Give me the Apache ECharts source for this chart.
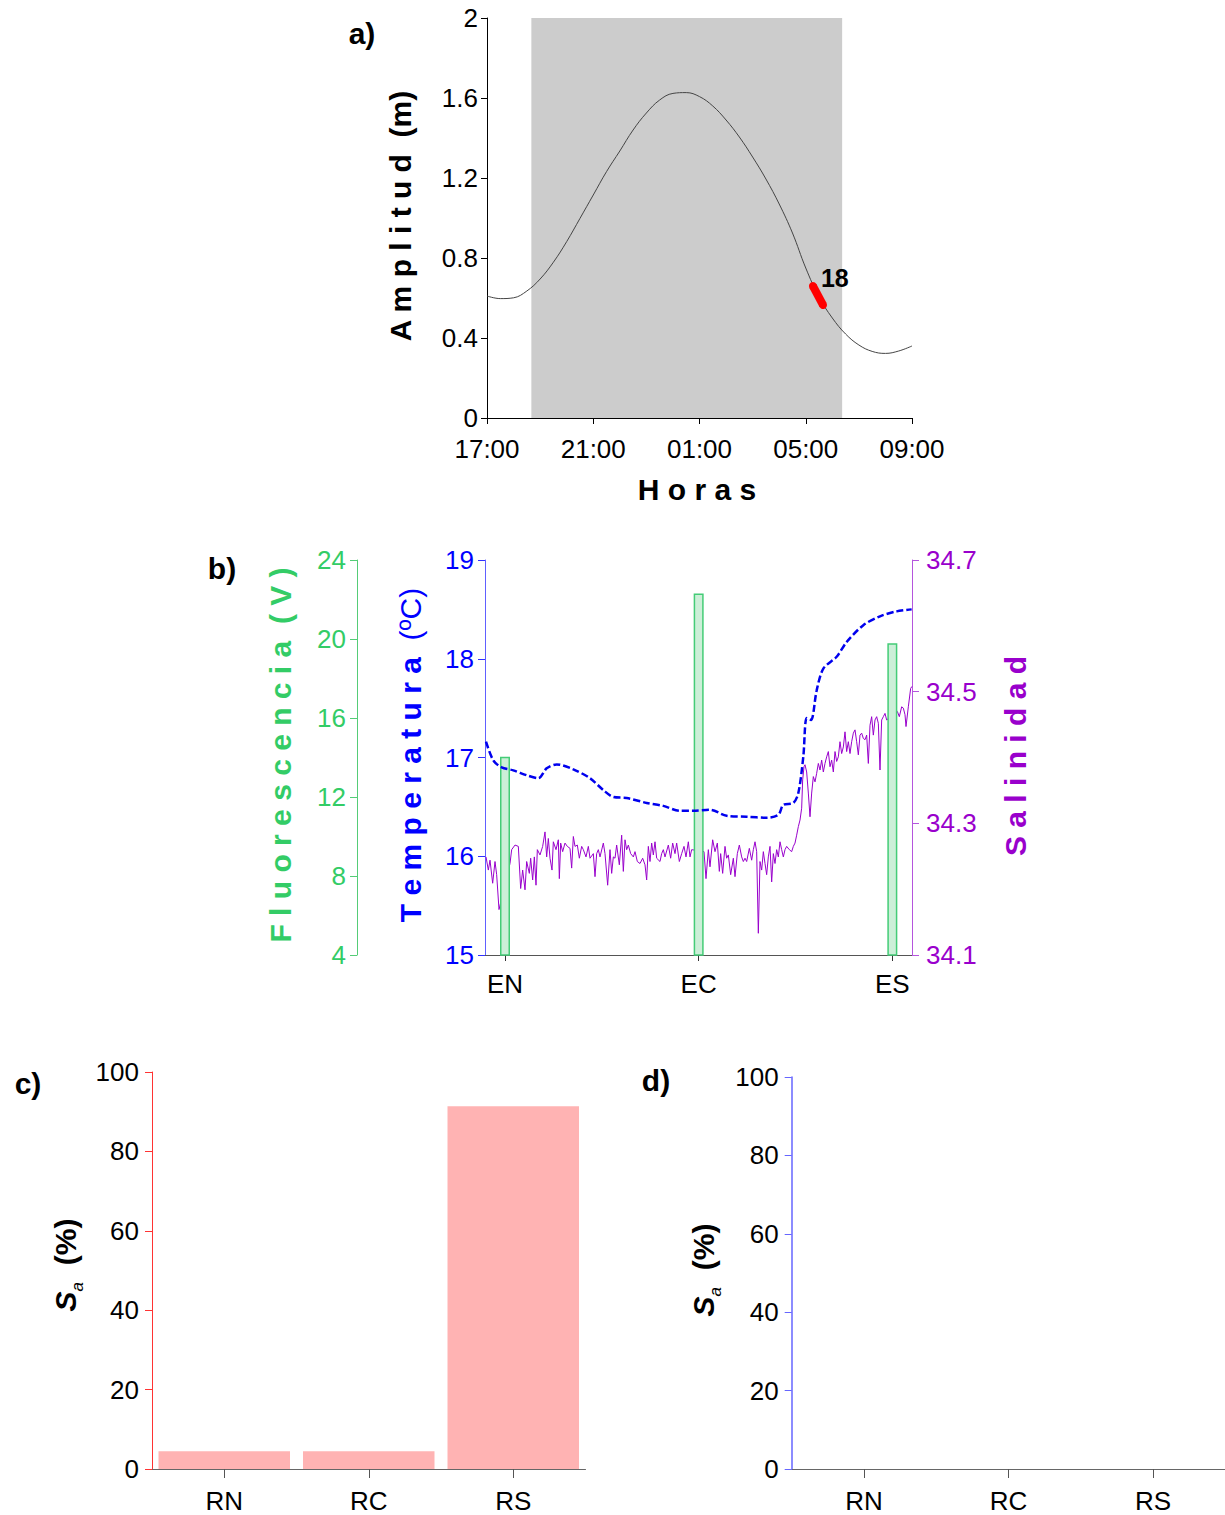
<!DOCTYPE html>
<html><head><meta charset="utf-8">
<script src="https://cdn.jsdelivr.net/npm/echarts@6/dist/echarts.min.js"></script>
<style>html,body{margin:0;padding:0;background:#fff}#c{width:1225px;height:1515px}</style>
</head><body><div id="c"></div>
<script>
const FONT = '"Liberation Sans", Arial, sans-serif';

// ---------- Panel a: tide ----------
const timeTickLabels = ['17:00', '21:00', '01:00', '05:00', '09:00'];
// hours after 17:00
const tideHours = [0,0.5,1,1.5,2,2.5,3,3.5,4,4.5,5,5.5,6,6.5,7,7.5,8,8.5,9,9.5,10,10.5,11,11.5,12,12.5,13,13.5,14,14.5,15,15.5,16];
const tideLevels = [0.61,0.597,0.601,0.635,0.695,0.779,0.882,0.998,1.115,1.232,1.335,1.44,1.525,1.59,1.623,1.627,1.607,1.56,1.49,1.405,1.305,1.195,1.07,0.925,0.75,0.605,0.5,0.42,0.365,0.333,0.323,0.335,0.36];
const nightWindow = [1.67, 13.37];
const sampleHours = [12.27, 12.65];
const sampleLevels = [0.66, 0.565];
const sampleName = '18';

// ---------- Panel b: transect ----------
const stationNames = ['EN', 'EC', 'ES'];
const stationPos = [75, 656, 1237];
const fluorValues = [14.04, 22.31, 19.78];
const tempX = [18,40,65,100,140,175,200,230,280,330,370,400,440,500,550,600,640,690,740,800,860,895,910,940,955,970,980,993,1010,1030,1070,1100,1150,1200,1250,1295];
const tempVal = [17.16,16.97,16.90,16.87,16.82,16.79,16.89,16.93,16.88,16.79,16.67,16.60,16.59,16.54,16.51,16.46,16.46,16.47,16.41,16.40,16.39,16.42,16.52,16.54,16.64,17.01,17.40,17.38,17.68,17.90,18.02,18.17,18.34,18.43,18.48,18.50];
const salX = [18,25,30,38,45,50,57,90,95,105,115,122,128,135,140,148,152,158,163,168,172,180,188,195,200,205,210,216,220,228,235,238,242,248,255,262,270,275,280,285,292,298,305,310,318,325,330,340,345,350,355,360,370,375,383,390,395,400,405,410,418,425,430,435,440,445,452,460,465,472,480,488,495,500,505,510,515,520,525,530,540,545,550,555,565,572,578,585,590,598,605,612,618,625,630,635,672,678,685,690,698,705,712,718,722,728,735,740,745,752,760,765,772,778,785,790,795,800,808,815,820,825,830,835,840,845,850,855,860,865,870,875,880,885,890,895,900,905,910,915,920,928,935,940,945,950,955,960,965,968,972,975,980,985,990,995,1000,1005,1010,1015,1020,1025,1030,1035,1040,1045,1050,1055,1060,1065,1070,1075,1080,1085,1090,1095,1100,1105,1110,1115,1120,1125,1130,1135,1140,1145,1150,1155,1160,1165,1170,1175,1180,1185,1190,1195,1200,1205,1210,1215,1220,1252,1258,1265,1270,1275,1278,1285,1292,1296];
const salVal = [34.249,34.229,34.244,34.209,34.242,34.222,34.169,34.239,34.260,34.267,34.265,34.201,34.229,34.199,34.242,34.224,34.247,34.214,34.249,34.206,34.260,34.252,34.265,34.287,34.249,34.277,34.247,34.229,34.272,34.260,34.275,34.216,34.270,34.257,34.270,34.265,34.262,34.232,34.280,34.265,34.267,34.247,34.265,34.260,34.249,34.265,34.247,34.254,34.219,34.254,34.260,34.249,34.270,34.254,34.206,34.260,34.224,34.249,34.247,34.267,34.237,34.282,34.227,34.275,34.260,34.267,34.254,34.249,34.257,34.242,34.239,34.247,34.237,34.214,34.265,34.242,34.270,34.252,34.272,34.247,34.242,34.254,34.260,34.249,34.267,34.247,34.270,34.254,34.270,34.242,34.254,34.265,34.249,34.272,34.249,34.260,34.257,34.216,34.260,34.234,34.275,34.257,34.270,34.227,34.254,34.224,34.265,34.247,34.252,34.222,34.247,34.219,34.254,34.267,34.249,34.242,34.247,34.242,34.262,34.244,34.260,34.272,34.257,34.133,34.242,34.229,34.257,34.239,34.222,34.249,34.265,34.211,34.254,34.239,34.260,34.249,34.272,34.260,34.249,34.260,34.265,34.260,34.257,34.265,34.270,34.282,34.295,34.305,34.323,34.366,34.386,34.389,34.378,34.346,34.310,34.346,34.371,34.363,34.376,34.391,34.381,34.396,34.378,34.391,34.401,34.409,34.386,34.396,34.378,34.409,34.394,34.401,34.424,34.406,34.416,34.439,34.409,34.424,34.406,34.424,34.437,34.442,34.424,34.404,34.434,34.437,34.429,34.427,34.434,34.391,34.449,34.462,34.434,34.457,34.462,34.452,34.381,34.457,34.462,34.467,34.457,34.470,34.462,34.477,34.475,34.465,34.447,34.477,34.505,34.508];

// ---------- Panels c, d ----------
const regionNames = ['RN', 'RC', 'RS'];
const saValuesC = [4.5, 4.5, 91.4];
const saValuesD = [0, 0, 0];

const GREEN = '#33cc66', BLUE = '#0000ff', PURPLE = '#9900cc';

function valAxis(o) {
  return Object.assign({
    type: 'value', splitLine: { show: false },
    axisLine: { show: true, onZero: false, lineStyle: { color: '#000', width: 1 } },
    axisTick: { show: true, inside: false, length: 6, lineStyle: { color: '#000' } },
    axisLabel: { fontSize: 26, fontFamily: FONT, color: '#000', margin: 9 }
  }, o);
}

const chart = echarts.init(document.getElementById('c'), null, { renderer: 'svg' });

function txt(x, y, text, font, fill, rot, rich) {
  const el = { type: 'text', x: x, y: y, rotation: rot || 0, silent: true,
    style: { text: text, font: font, fill: fill, textAlign: 'center', textVerticalAlign: 'middle' } };
  if (rich) el.style.rich = rich;
  return el;
}
const R = Math.PI / 2;
const boldF = 'bold 30px ' + FONT;

const option = {
  animation: false,
  backgroundColor: '#fff',
  grid: [
    { left: 487, top: 18, width: 425, height: 400, outerBoundsMode: 'none' },
    { left: 485, top: 560, width: 427, height: 395, outerBoundsMode: 'none' },
    { left: 152, top: 1072, width: 433.5, height: 397, outerBoundsMode: 'none' },
    { left: 791.7, top: 1077, width: 433.5, height: 392, outerBoundsMode: 'none' }
  ],
  xAxis: [
    valAxis({ gridIndex: 0, min: 0, max: 16, interval: 4,
      axisLabel: { fontSize: 26, fontFamily: FONT, color: '#000', margin: 18,
        formatter: v => timeTickLabels[Math.round(v / 4)] } }),
    valAxis({ gridIndex: 1, min: 15, max: 1296,
      axisLine: { show: true, onZero: false, lineStyle: { color: '#555' } },
      axisTick: { show: true, length: 6, customValues: stationPos, lineStyle: { color: '#333' } },
      axisLabel: { fontSize: 26, fontFamily: FONT, color: '#000', margin: 16, customValues: stationPos,
        formatter: v => stationNames[stationPos.indexOf(v)] } }),
    { gridIndex: 2, type: 'category', data: regionNames,
      axisLine: { show: true, lineStyle: { color: '#666' } },
      axisTick: { show: true, alignWithLabel: true, length: 9, lineStyle: { color: '#555' } },
      axisLabel: { fontSize: 26, fontFamily: FONT, color: '#000', margin: 19 } },
    { gridIndex: 3, type: 'category', data: regionNames,
      axisLine: { show: true, lineStyle: { color: '#666' } },
      axisTick: { show: true, alignWithLabel: true, length: 9, lineStyle: { color: '#555' } },
      axisLabel: { fontSize: 26, fontFamily: FONT, color: '#000', margin: 19 } }
  ],
  yAxis: [
    valAxis({ gridIndex: 0, min: 0, max: 2, interval: 0.4,
      axisLabel: { fontSize: 26, fontFamily: FONT, color: '#000', margin: 9,
        formatter: v => String(+v.toFixed(1)) } }),
    valAxis({ gridIndex: 1, position: 'left', min: 15, max: 19, interval: 1,
      axisLine: { show: true, onZero: false, lineStyle: { color: '#6060ff' } },
      axisTick: { show: true, length: 7, lineStyle: { color: '#3030ff' } },
      axisLabel: { fontSize: 26, fontFamily: FONT, color: BLUE, margin: 11 } }),
    valAxis({ gridIndex: 1, position: 'left', offset: 128, min: 4, max: 24, interval: 4,
      axisLine: { show: true, onZero: false, lineStyle: { color: '#55cc77' } },
      axisTick: { show: true, length: 7, lineStyle: { color: '#55cc77' } },
      axisLabel: { fontSize: 26, fontFamily: FONT, color: GREEN, margin: 11 } }),
    valAxis({ gridIndex: 1, position: 'right', min: 34.1, max: 34.7, interval: 0.2,
      axisLine: { show: true, onZero: false, lineStyle: { color: '#b455dd' } },
      axisTick: { show: true, length: 7, lineStyle: { color: '#b455dd' } },
      axisLabel: { fontSize: 26, fontFamily: FONT, color: PURPLE, margin: 14,
        formatter: v => v.toFixed(1) } }),
    valAxis({ gridIndex: 2, min: 0, max: 100, interval: 20,
      axisLine: { show: true, onZero: false, lineStyle: { color: '#ff3333' } },
      axisTick: { show: true, length: 7, lineStyle: { color: '#ff3333' } },
      axisLabel: { fontSize: 26, fontFamily: FONT, color: '#000', margin: 13 } }),
    valAxis({ gridIndex: 3, min: 0, max: 100, interval: 20,
      axisLine: { show: true, onZero: false, lineStyle: { color: '#6666ff', width: 1.5 } },
      axisTick: { show: true, length: 7, lineStyle: { color: '#6666ff' } },
      axisLabel: { fontSize: 26, fontFamily: FONT, color: '#000', margin: 13 } })
  ],
  series: [
    { name: 'night', type: 'line', xAxisIndex: 0, yAxisIndex: 0, data: [], z: 1, silent: true,
      markArea: { silent: true, itemStyle: { color: '#cccccc', opacity: 1 },
        data: [[{ xAxis: nightWindow[0] }, { xAxis: nightWindow[1] }]] } },
    { name: 'tide', type: 'line', xAxisIndex: 0, yAxisIndex: 0, z: 3, smooth: 0.4, symbol: 'none',
      lineStyle: { color: '#444', width: 1 },
      data: tideHours.map((h, i) => [h, tideLevels[i]]) },
    { name: 'sample', type: 'line', xAxisIndex: 0, yAxisIndex: 0, z: 4, symbol: 'circle', symbolSize: 8,
      showSymbol: true, itemStyle: { color: '#ff0000' }, lineStyle: { color: '#ff0000', width: 8 },
      data: sampleHours.map((h, i) => i === 0 ? {
        value: [h, sampleLevels[i]],
        label: { show: true, formatter: sampleName, position: 'right', distance: 4, offset: [0, -8],
          fontSize: 25, fontWeight: 'bold', fontFamily: FONT, color: '#000' } } : [h, sampleLevels[i]]) },
    { name: 'salinidad', type: 'line', xAxisIndex: 1, yAxisIndex: 3, z: 2, symbol: 'none',
      lineStyle: { color: PURPLE, width: 1 },
      data: salX.map((x, i) => [x, salVal[i]]) },
    { name: 'fluorescencia', type: 'bar', xAxisIndex: 1, yAxisIndex: 2, z: 3, barWidth: 10,
      itemStyle: { color: '#ccefd8', borderColor: '#44cc77', borderWidth: 1.5 },
      data: stationPos.map((p, i) => [p, fluorValues[i]]) },
    { name: 'temperatura', type: 'line', xAxisIndex: 1, yAxisIndex: 1, z: 5, smooth: 0.3, symbol: 'none',
      lineStyle: { color: '#0000ee', width: 2.5, type: [7, 3] },
      data: tempX.map((x, i) => [x, tempVal[i]]) },
    { name: 'c', type: 'bar', xAxisIndex: 2, yAxisIndex: 4, barCategoryGap: '9%',
      itemStyle: { color: '#ffb3b3' }, data: saValuesC },
    { name: 'd', type: 'bar', xAxisIndex: 3, yAxisIndex: 5, barCategoryGap: '9%',
      itemStyle: { color: '#b3b3ff' }, data: saValuesD }
  ],
  graphic: [
    txt(362, 33, 'a)', boldF, '#000'),
    txt(400, 216, 'A m p l i t u d  (m)', boldF, '#000', R),
    txt(697, 489, 'H o r a s', boldF, '#000'),
    txt(222, 568, 'b)', boldF, '#000'),
    txt(280, 755, 'F l u o r e s c e n c i a  ( V )', boldF, GREEN, R),
    txt(410, 755, '{b|T e m p e r a t u r a}{n|  (ºC)}', boldF, BLUE, R, {
      b: { font: boldF, fill: BLUE }, n: { font: '30px ' + FONT, fill: BLUE } }),
    txt(1015, 756, 'S a l i n i d a d', boldF, PURPLE, R),
    txt(28, 1083, 'c)', boldF, '#000'),
    txt(656, 1080, 'd)', boldF, '#000'),
    txt(65, 1265, '{s|S}{a|a}{p|  (%)}', boldF, '#000', R, {
      s: { font: 'bold italic 30px ' + FONT, fill: '#000' },
      a: { font: 'italic 17px ' + FONT, fill: '#000', verticalAlign: 'bottom', padding: [0, 0, -6, 0] },
      p: { font: boldF, fill: '#000' } }),
    txt(703, 1270, '{s|S}{a|a}{p|  (%)}', boldF, '#000', R, {
      s: { font: 'bold italic 30px ' + FONT, fill: '#000' },
      a: { font: 'italic 17px ' + FONT, fill: '#000', verticalAlign: 'bottom', padding: [0, 0, -6, 0] },
      p: { font: boldF, fill: '#000' } })
  ]
};
chart.setOption(option);
</script></body></html>
